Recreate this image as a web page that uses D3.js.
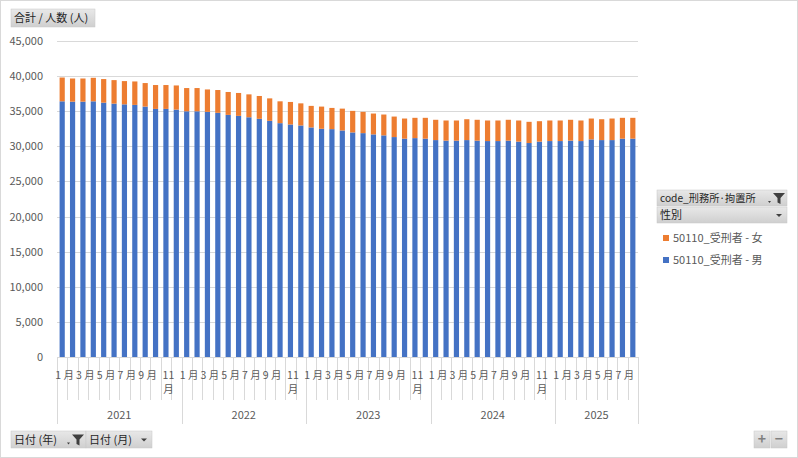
<!DOCTYPE html>
<html lang="ja">
<head>
<meta charset="UTF-8">
<title>受刑者 人数</title>
<script src="https://d3js.org/d3.v7.min.js"></script>
<style>
  body { margin: 0; background: #fff; }
  svg text { font-family: "Noto Sans CJK JP", "Noto Sans", sans-serif; }
</style>
</head>
<body>
<svg id="chart" width="798" height="458"></svg>
<script>
// data
const years = ["2021", "2022", "2023", "2024", "2025"];
const monthsPerYear = [12, 12, 12, 12, 8];
const yTicks = [0, 5000, 10000, 15000, 20000, 25000, 30000, 35000, 40000, 45000];
const seriesNames = ["50110_受刑者 - 女", "50110_受刑者 - 男"];
const male = [
  36410, 36360, 36360, 36410, 36220, 36080, 35980, 35900, 35660, 35330, 35330, 35230,
  34990, 34990, 34910, 34770, 34480, 34340, 34140, 33920, 33630, 33300, 33110, 32970,
  32690, 32500, 32450, 32260, 31980, 31880, 31700, 31560, 31320, 31090, 31170, 31090,
  30890, 30810, 30810, 30890, 30810, 30750, 30750, 30810, 30670, 30470, 30670, 30750,
  30750, 30810, 30750, 30990, 30890, 30890, 31090, 31090
];
const female = [
  3390, 3300, 3300, 3350, 3360, 3350, 3310, 3340, 3350, 3400, 3400, 3440,
  3310, 3310, 3190, 3250, 3260, 3260, 3260, 3250, 3200, 3110, 3210, 3150,
  3070, 3160, 3020, 3110, 3070, 3030, 2970, 2970, 2920, 2870, 2890, 2970,
  2890, 2870, 2870, 2970, 2970, 2930, 2930, 2970, 3010, 3020, 2910, 2930,
  2930, 2970, 2930, 2970, 2970, 3070, 2970, 2970
];

const colors = { male: "#4472C4", female: "#ED7D31" };
const grey = "#595959", lineCol = "#D9D9D9";

// categories (year, month)
const cats = [];
years.forEach((y, i) => {
  for (let m = 1; m <= monthsPerYear[i]; m++) cats.push({ key: y + "-" + m, year: y, month: m });
});
const rows = cats.map((c, i) => ({ key: c.key, year: c.year, month: c.month, male: male[i], female: female[i] }));

const svg = d3.select("#chart");

// outer border
svg.append("rect").attr("x", 0.5).attr("y", 0.5).attr("width", 797).attr("height", 457)
  .attr("fill", "#fff").attr("stroke", lineCol);

const plot = { left: 57, right: 638, top: 41, bottom: 357 };

const x = d3.scaleBand().domain(cats.map(c => c.key)).range([plot.left, plot.right]).paddingInner(0.5).paddingOuter(0.25);
const y = d3.scaleLinear().domain([0, 45000]).range([plot.bottom, plot.top]);

// gridlines
svg.append("g").selectAll("line").data(yTicks).join("line")
  .attr("x1", plot.left).attr("x2", plot.right)
  .attr("y1", d => Math.round(y(d)) + 0.5).attr("y2", d => Math.round(y(d)) + 0.5)
  .attr("stroke", lineCol).attr("stroke-width", 1);

// y axis labels
const yAxis = svg.append("g").attr("transform", `translate(${plot.left - 14},0)`)
  .call(d3.axisLeft(y).tickValues(yTicks).tickSize(0).tickPadding(0).tickFormat(d3.format(",")));
yAxis.select(".domain").remove();
yAxis.selectAll("text").attr("fill", grey).attr("font-size", 11);

// stacked bars
const stack = d3.stack().keys(["male", "female"])(rows);
svg.append("g").selectAll("g").data(stack).join("g")
  .attr("fill", d => colors[d.key])
  .selectAll("rect").data(d => d).join("rect")
  .attr("x", d => x(d.data.key))
  .attr("width", x.bandwidth())
  .attr("y", d => y(d[1]))
  .attr("height", d => y(d[0]) - y(d[1]));

// category axis (multi-level)
const step = x.step();
const axisG = svg.append("g");
const edge = i => plot.left + i * step;
cats.forEach((c, i) => {
  const isYearStart = c.month === 1;
  axisG.append("line")
    .attr("x1", Math.round(edge(i)) + 0.5).attr("x2", Math.round(edge(i)) + 0.5)
    .attr("y1", plot.bottom).attr("y2", isYearStart ? 424 : 400)
    .attr("stroke", lineCol);
});
axisG.append("line")
  .attr("x1", Math.round(edge(cats.length)) + 0.5).attr("x2", Math.round(edge(cats.length)) + 0.5)
  .attr("y1", plot.bottom).attr("y2", 424).attr("stroke", lineCol);

// month labels, every other month
rows.filter(d => d.month % 2 === 1).forEach(d => {
  const cx = x(d.key) + x.bandwidth() / 2 + 2.5;
  const t = axisG.append("text").attr("text-anchor", "middle").attr("fill", grey).attr("font-size", 10.5);
  if (d.month >= 10) {
    t.append("tspan").attr("x", cx).attr("y", 379).text(d.month);
    t.append("tspan").attr("x", cx).attr("y", 393).text("月");
  } else {
    t.attr("x", cx).attr("y", 379).text(d.month + " 月");
  }
});

// year labels
years.forEach(yr => {
  const inYear = cats.filter(c => c.year === yr);
  const a = x(inYear[0].key) - x.paddingInner() * step / 2;
  const b = x(inYear[inYear.length - 1].key) + x.bandwidth() + x.paddingInner() * step / 2;
  axisG.append("text").attr("x", (a + b) / 2).attr("y", 419)
    .attr("text-anchor", "middle").attr("fill", grey).attr("font-size", 11).text(yr);
});

// pivot buttons
const defs = svg.append("defs");
const grad = defs.append("linearGradient").attr("id", "btn").attr("x1", 0).attr("y1", 0).attr("x2", 0).attr("y2", 1);
grad.append("stop").attr("offset", "0%").attr("stop-color", "#E8E8E8");
grad.append("stop").attr("offset", "100%").attr("stop-color", "#CFCFCF");

function button(x0, y0, w, h, label, icon, fs = 11) {
  const g = svg.append("g");
  g.append("rect").attr("x", x0).attr("y", y0).attr("width", w).attr("height", h)
    .attr("fill", "url(#btn)").attr("stroke", "#C8C8C8").attr("stroke-width", 0.5);
  g.append("text").attr("x", x0 + 3).attr("y", y0 + h / 2 + 4).attr("font-size", fs)
    .attr("fill", "#262626").text(label);
  if (icon === "filter") {
    const fx = x0 + w - 14, fy = y0 + h / 2 - 5;
    g.append("path").attr("d", `M${fx - 5},${fy + 8} l3,0 l-1.5,2 z`).attr("fill", "#404040");
    g.append("path").attr("d", `M${fx},${fy} h12 l-4.5,5 v6 l-3,-1.5 v-4.5 z`).attr("fill", "#404040");
  } else if (icon === "drop") {
    const fx = x0 + w - 8, fy = y0 + h / 2 - 1;
    g.append("path").attr("d", `M${fx - 3},${fy} h6 l-3,3 z`).attr("fill", "#404040");
  }
}
button(11, 9, 84, 18, "合計 / 人数 (人)");
button(657, 190, 130, 16, "code_刑務所·拘置所", "filter", 10.2);
button(657, 207, 130, 16, "性別", "drop");
button(11, 431, 75, 17, "日付 (年)", "filter");
button(86, 431, 66, 17, "日付 (月)", "drop");

// +/- buttons
[["+", 754], ["−", 771]].forEach(([s, bx]) => {
  svg.append("rect").attr("x", bx).attr("y", 431).attr("width", 16).attr("height", 17)
    .attr("fill", "url(#btn)").attr("stroke", "#C8C8C8").attr("stroke-width", 0.5);
  svg.append("text").attr("x", bx + 8).attr("y", 444).attr("text-anchor", "middle")
    .attr("font-size", 14).attr("font-weight", "bold").attr("fill", "#7F7F7F").text(s);
});

// legend
const legend = svg.append("g");
[["female", 0], ["male", 1]].forEach(([k, i]) => {
  const ly = 238 + i * 22;
  legend.append("rect").attr("x", 663).attr("y", ly - 3).attr("width", 6).attr("height", 6).attr("fill", colors[k]);
  legend.append("text").attr("x", 673).attr("y", ly + 4).attr("font-size", 11).attr("fill", grey).text(seriesNames[i]);
});
</script>
</body>
</html>
